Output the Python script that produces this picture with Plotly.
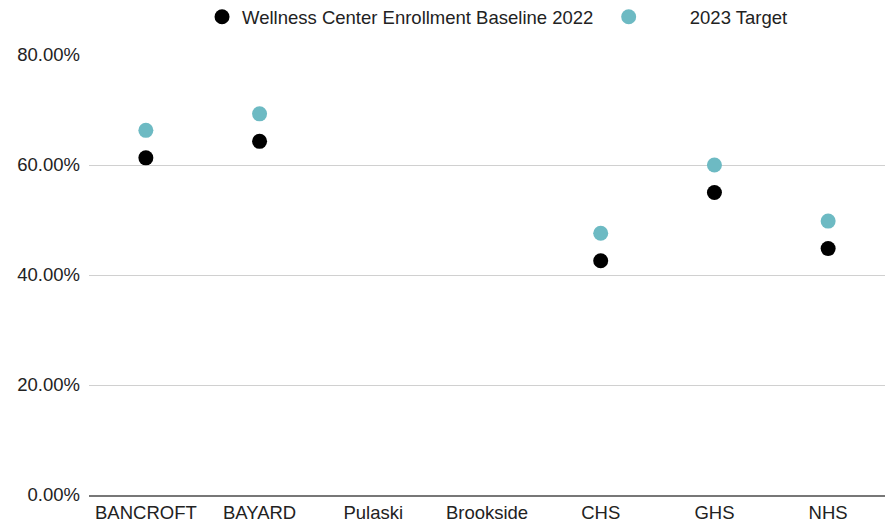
import plotly.graph_objects as go

schools = ["BANCROFT", "BAYARD", "Pulaski", "Brookside", "CHS", "GHS", "NHS"]
baseline_2022 = [0.613, 0.643, None, None, 0.426, 0.550, 0.448]
target_2023 = [0.663, 0.693, None, None, 0.476, 0.600, 0.498]
y_ticks = [0, 0.2, 0.4, 0.6, 0.8]

FONT = "Liberation Sans, Arial, sans-serif"
FS = 18.5

fig = go.Figure()
fig.add_trace(go.Scatter(
    x=schools, y=baseline_2022, mode="markers",
    name="Wellness Center Enrollment Baseline 2022" + "\u00a0" * 2,
    marker=dict(color="#000000", size=15),
))
fig.add_trace(go.Scatter(
    x=schools, y=target_2023, mode="markers",
    name="\u00a0" * 8 + "2023 Target",
    marker=dict(color="#6dbac3", size=15),
))

fig.update_layout(
    width=892, height=523,
    margin=dict(l=89, r=7, t=55, b=28, autoexpand=False),
    paper_bgcolor="white", plot_bgcolor="white",
    font=dict(family=FONT, size=FS, color="#222222"),
    showlegend=True,
    legend=dict(
        orientation="h", x=0.142, xanchor="left", y=1.086, yanchor="middle",
        font=dict(size=FS, color="#222222"), bgcolor="rgba(0,0,0,0)",
        itemclick=False,
    ),
    xaxis=dict(
        type="category", categoryorder="array", categoryarray=schools,
        showgrid=False, showline=True, linecolor="#777777", linewidth=2,
        ticks="", tickfont=dict(size=FS, color="#222222"),
        range=[-0.5, 6.5],
    ),
    yaxis=dict(
        range=[0, 0.8], tickvals=y_ticks, tickformat=".2%",
        showgrid=True, gridcolor="#d0d0d0", gridwidth=1,
        zeroline=False, showline=False, ticks="",
        ticklabelstandoff=8,
        tickfont=dict(size=FS, color="#222222"),
    ),
)

fig.write_html("out.html")
